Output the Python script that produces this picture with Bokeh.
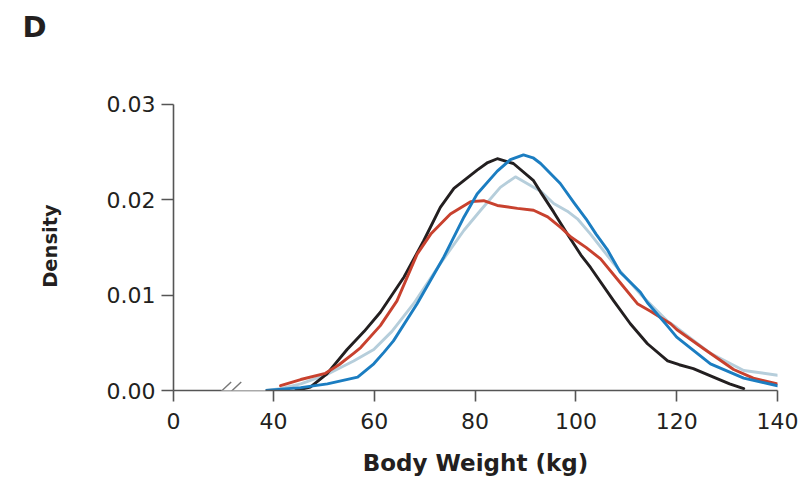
from bokeh.plotting import figure
from bokeh.models import (Range1d, FixedTicker, CustomJSTickFormatter,
                          PrintfTickFormatter, BoxAnnotation, Arrow, Title)
from bokeh.embed import file_html
from bokeh.resources import INLINE

# Body-weight density curves for four groups (kg, density)
grp_black_kg = [44.4, 47.3, 50.6, 54.6, 58.0, 61.2, 65.9, 69.8, 73.1, 75.8, 80.4, 82.5,
                84.4, 87.6, 91.6, 93.0, 95.6, 98.3, 101.0, 102.9, 107.5, 110.8, 114.2,
                118.2, 120.5, 123.3, 127.3, 130.5, 133.3]
grp_black_d = [0.0, 0.00035, 0.00175, 0.0043, 0.0062, 0.0082, 0.0119, 0.0157, 0.0192,
               0.0212, 0.0231, 0.0239, 0.0243, 0.0238, 0.0220, 0.0208, 0.0187, 0.0164,
               0.0142, 0.0129, 0.0094, 0.0070, 0.0049, 0.0031, 0.0027, 0.0023, 0.0014,
               0.0007, 0.0002]

grp_red_kg = [41.4, 45.4, 50.3, 53.0, 55.9, 57.3, 61.2, 64.5, 68.5, 71.2, 75.1, 79.1,
              81.7, 84.4, 88.4, 91.6, 94.4, 97.2, 99.0, 102.0, 104.9, 108.8, 112.2,
              114.8, 118.8, 120.0, 125.3, 131.3, 135.2, 140.0]
grp_red_d = [0.0005, 0.00115, 0.0018, 0.0027, 0.0039, 0.0045, 0.0068, 0.0094, 0.0143,
             0.0164, 0.0185, 0.0198, 0.0199, 0.0194, 0.0191, 0.0189, 0.0182, 0.0170,
             0.0161, 0.0150, 0.0138, 0.0113, 0.0091, 0.0083, 0.0070, 0.0064, 0.0044,
             0.0022, 0.0013, 0.0007]

grp_lightblue_kg = [38.5, 41.4, 45.4, 50.3, 55.9, 59.9, 63.5, 67.8, 73.1, 77.8, 81.1,
                    85.0, 88.0, 91.6, 93.0, 95.6, 98.3, 100.3, 102.9, 107.5, 112.8,
                    118.1, 120.0, 126.7, 133.3, 140.0]
grp_lightblue_d = [0.0, 0.0002, 0.0007, 0.0016, 0.0031, 0.0043, 0.0062, 0.0091, 0.0133,
                   0.0168, 0.0189, 0.0213, 0.0224, 0.0213, 0.0209, 0.0196, 0.0188, 0.0180,
                   0.0164, 0.0133, 0.0101, 0.0073, 0.0066, 0.0039, 0.0021, 0.0016]

grp_blue_kg = [38.5, 45.4, 50.7, 56.7, 59.9, 61.9, 63.8, 68.5, 73.8, 77.8, 80.4, 84.4,
               87.0, 89.6, 91.5, 93.0, 96.9, 99.6, 102.0, 104.0, 106.2, 108.8, 112.8,
               114.2, 118.1, 120.0, 126.7, 133.3, 140.0]
grp_blue_d = [0.0, 0.0003, 0.0007, 0.0014, 0.0028, 0.0040, 0.0052, 0.0091, 0.0140,
              0.0182, 0.0206, 0.0230, 0.0242, 0.0247, 0.0244, 0.0238, 0.0217, 0.0197,
              0.0180, 0.0164, 0.0148, 0.0124, 0.0103, 0.0092, 0.0068, 0.0056, 0.0028,
              0.0013, 0.0005]

x_ticks = [40, 60, 80, 100, 120, 140]
y_ticks = [0.0, 0.01, 0.02, 0.03]

# broken x axis: the "0" tick sits just left of the break
X_ORIGIN = 20.16
BREAK_LO = 29.7
BREAK_HI = 38.4
X_MAX = 140

AXIS_COLOR = "#555555"
TEXT_COLOR = "#231f20"
FONT = "DejaVu Sans"

p = figure(width=806, height=485, output_backend="svg", toolbar_location=None,
           x_range=Range1d(X_ORIGIN, X_MAX), y_range=Range1d(0, 0.0303),
           min_border_left=173, min_border_right=29, min_border_top=101,
           min_border_bottom=95, title="D")
p.outline_line_color = None
p.grid.grid_line_color = None
p.background_fill_color = "white"
p.border_fill_color = "white"

# panel letter in the top-left corner
p.title.align = "left"
p.title.vertical_align = "top"
p.title.offset = -151
p.title.standoff = 10
p.title.text_font = FONT
p.title.text_font_style = "bold"
p.title.text_font_size = "29px"
p.title.text_color = TEXT_COLOR

# blank spacer between the letter and the frame
p.add_layout(Title(text=" ", text_font_size="10px", standoff=38), "above")

xa = p.xaxis[0]
xa.ticker = FixedTicker(ticks=[X_ORIGIN] + x_ticks)
xa.formatter = CustomJSTickFormatter(code="return tick < 30 ? '0' : tick.toFixed(0)")
xa.axis_line_color = AXIS_COLOR
xa.axis_line_width = 1.6
xa.major_tick_line_color = AXIS_COLOR
xa.major_tick_line_width = 1.6
xa.major_tick_in = 0
xa.major_tick_out = 11
xa.minor_tick_line_color = None
xa.major_label_standoff = 11
xa.major_label_text_font = FONT
xa.major_label_text_font_size = "22px"
xa.major_label_text_color = TEXT_COLOR
xa.axis_label = "Body Weight (kg)"
xa.axis_label_text_font = FONT
xa.axis_label_text_font_style = "bold"
xa.axis_label_text_font_size = "23px"
xa.axis_label_text_color = TEXT_COLOR
xa.axis_label_standoff = 18

ya = p.yaxis[0]
ya.bounds = (0, 0.03)
ya.ticker = FixedTicker(ticks=y_ticks)
ya.formatter = PrintfTickFormatter(format="%.2f")
ya.axis_line_color = AXIS_COLOR
ya.axis_line_width = 1.6
ya.major_tick_line_color = AXIS_COLOR
ya.major_tick_line_width = 1.6
ya.major_tick_in = 0
ya.major_tick_out = 12
ya.minor_tick_line_color = None
ya.major_label_standoff = 6
ya.major_label_text_font = FONT
ya.major_label_text_font_size = "22px"
ya.major_label_text_color = TEXT_COLOR
ya.axis_label = "Density"
ya.axis_label_text_font = FONT
ya.axis_label_text_font_style = "bold"
ya.axis_label_text_font_size = "19.5px"
ya.axis_label_text_color = TEXT_COLOR
ya.axis_label_standoff = 42

# density curves
curve_kw = dict(line_width=2.9, line_join="round", line_cap="round")
p.line(grp_lightblue_kg, grp_lightblue_d, line_color="#b6cedb", **curve_kw)
p.line(grp_black_kg, grp_black_d, line_color="#231f20", **curve_kw)
p.line(grp_red_kg, grp_red_d, line_color="#c8412e", **curve_kw)
p.line(grp_blue_kg, grp_blue_d, line_color="#1b7dc1", **curve_kw)

# gap in the x axis line, with the two break marks over it
p.add_layout(BoxAnnotation(left=BREAK_LO, right=BREAK_HI, bottom=-0.0003, top=0.0002,
                           fill_color="white", fill_alpha=1.0, line_color=None,
                           level="overlay"))
for x0 in (27.6, 29.6):
    p.add_layout(Arrow(end=None, x_start=x0, y_start=-0.0011, x_end=x0 + 4.0,
                       y_end=0.0009, line_color="#777777", line_width=1.4,
                       level="overlay"))

open("out.html", "w").write(file_html(p, INLINE))
